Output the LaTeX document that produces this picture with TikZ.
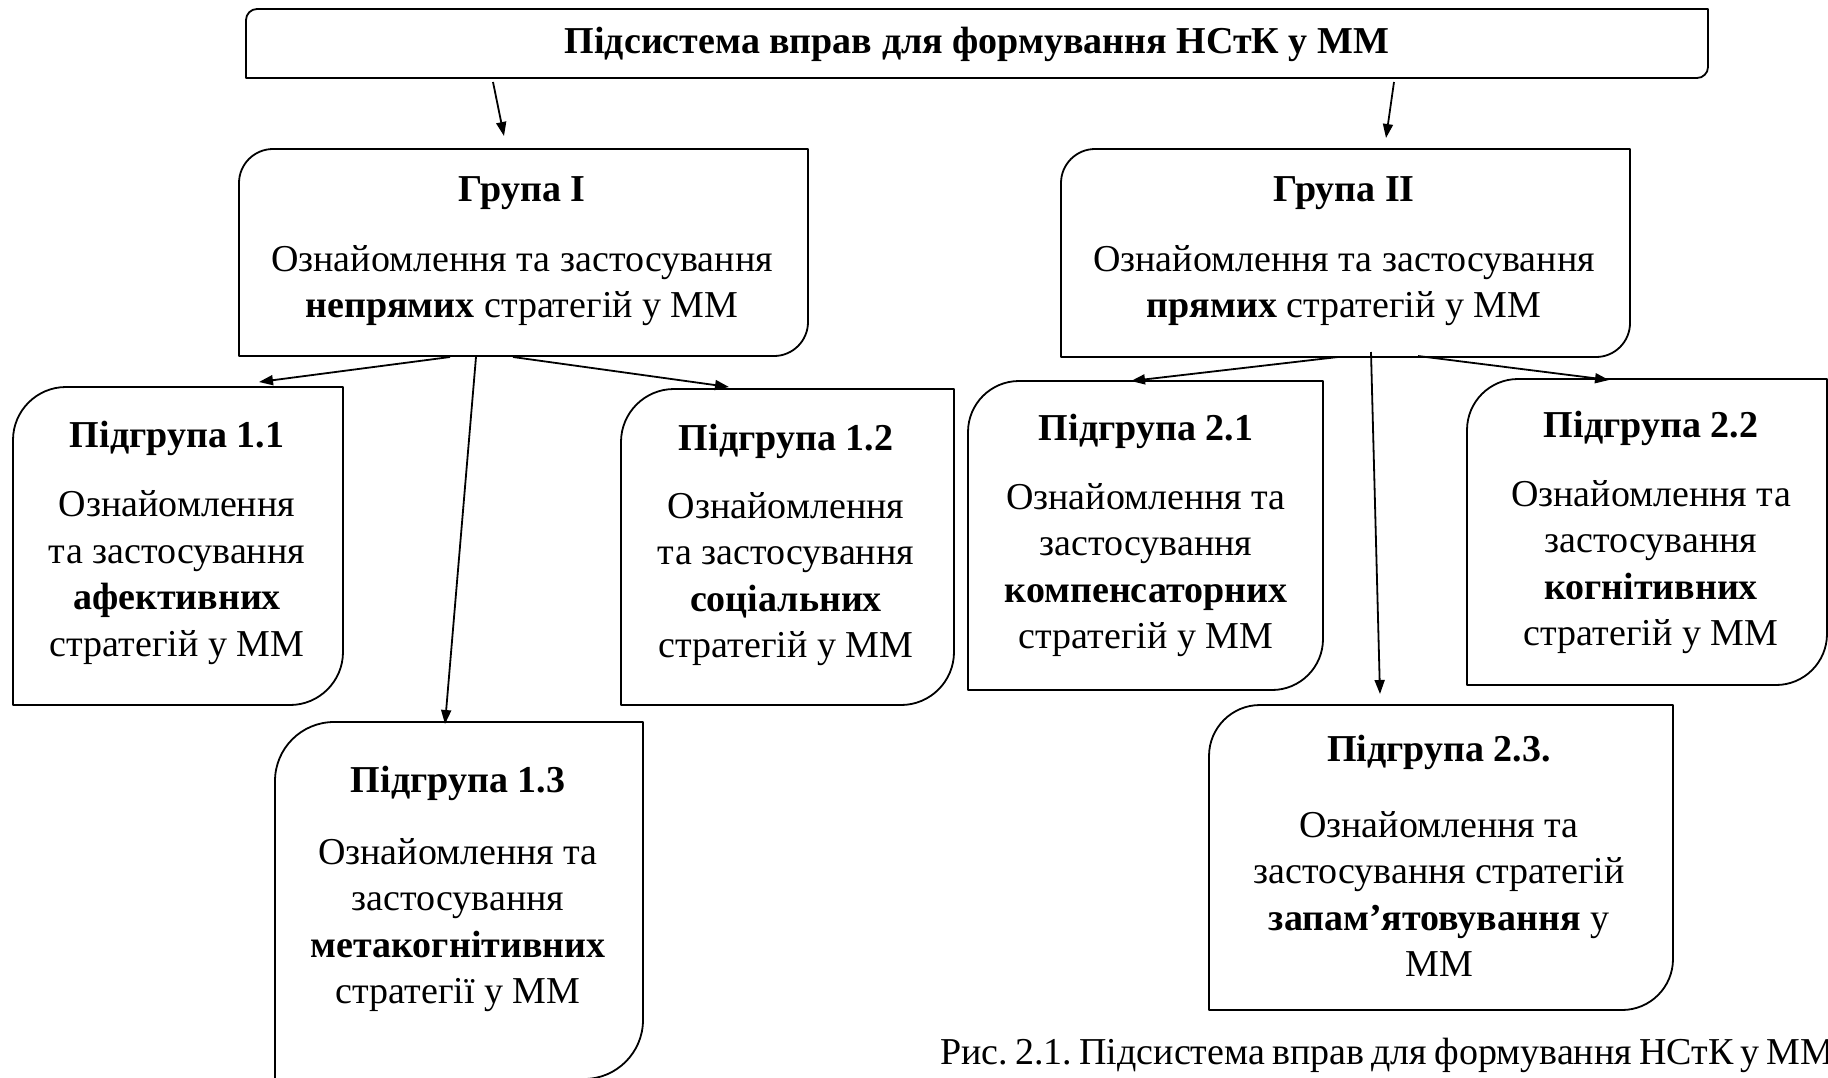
\documentclass[tikz,border=0pt]{standalone}
\usepackage{fontspec}
\setmainfont{Liberation Serif}
\usetikzlibrary{calc,arrows.meta}
\tikzset{
  boxline/.style={line width=1.8pt, line join=round},
  frame/.style={rectangle, draw=none, inner sep=0pt, outer sep=0pt},
  txt/.style={align=center, inner sep=0pt, font=\fontsize{38}{46.5}\selectfont},
  hd/.style={inner sep=0pt, font=\fontsize{38}{46.5}\selectfont\bfseries},
  conn/.style={line width=1.8pt, -{Triangle[length=14pt,width=10pt]}},
}
\newcommand{\rdshape}[2]{%
  \draw[boxline] (#1.north east) -- ($(#1.north west)+(#2,0)$)
    .. controls ($(#1.north west)+({#2*0.448},0)$) and ($(#1.north west)+(0,{#2*0.448})$) ..
    ($(#1.north west)+(0,#2)$) -- (#1.south west) -- ($(#1.south east)+(-#2,0)$)
    .. controls ($(#1.south east)+({-#2*0.448},0)$) and ($(#1.south east)+(0,{-#2*0.448})$) ..
    ($(#1.south east)+(0,-#2)$) -- cycle;}
\frenchspacing
\begin{document}
\begin{tikzpicture}[x=1pt,y=-1pt]
\fill[white] (0,0) rectangle (1828,1077);
\useasboundingbox (0,0) rectangle (1828,1077);

% boxes
\node[frame, minimum width=1462pt, minimum height=69pt] (top) at (977,43.5) {};
\node[frame, minimum width=569pt, minimum height=207pt] (g1) at (523.5,252.5) {};
\node[frame, minimum width=569pt, minimum height=208pt] (g2) at (1345.5,253) {};
\node[frame, minimum width=330pt, minimum height=318pt] (s11) at (178,546) {};
\node[frame, minimum width=333pt, minimum height=316pt] (s12) at (787.5,547) {};
\node[frame, minimum width=368pt, minimum height=357pt] (s13) at (459,900.5) {};
\node[frame, minimum width=355pt, minimum height=309pt] (s21) at (1145.5,535.5) {};
\node[frame, minimum width=360pt, minimum height=306pt] (s22) at (1647,532) {};
\node[frame, minimum width=464pt, minimum height=305pt] (s23) at (1441,857.5) {};

\rdshape{top}{11}
\rdshape{g1}{34}
\rdshape{g2}{34}
\rdshape{s11}{53}
\rdshape{s12}{53}
\rdshape{s13}{59}
\rdshape{s21}{51}
\rdshape{s22}{51}
\rdshape{s23}{51}

% texts
\node[hd] (topt) at (977,44) {Підсистема вправ для формування НСтК у ММ};
\node[hd] (g1h) at (522,193) {Група I};
\node[txt] (g1t) at (522,285.5) {Ознайомлення та застосування\\\textbf{непрямих} стратегій у ММ};
\node[hd] (g2h) at (1344,193) {Група II};
\node[txt] (g2t) at (1344,285.5) {Ознайомлення та застосування\\\textbf{прямих} стратегій у ММ};
\node[hd] (s11h) at (177,438) {Підгрупа 1.1};
\node[txt] (s11t) at (177,577.5) {Ознайомлення\\та застосування\\\textbf{афективних}\\стратегій у ММ};
\node[hd] (s12h) at (786,441) {Підгрупа 1.2};
\node[txt] (s12t) at (786,579) {Ознайомлення\\та застосування\\\textbf{соціальних}\\стратегій у ММ};
\node[hd] (s13h) at (458,783) {Підгрупа 1.3};
\node[txt] (s13t) at (458,925) {Ознайомлення та\\застосування\\\textbf{метакогнітивних}\\стратегії у ММ};
\node[hd] (s21h) at (1146,431) {Підгрупа 2.1};
\node[txt] (s21t) at (1146,570) {Ознайомлення та\\застосування\\\textbf{компенсаторних}\\стратегій у ММ};
\node[hd] (s22h) at (1651,428) {Підгрупа 2.2};
\node[txt] (s22t) at (1651,567) {Ознайомлення та\\застосування\\\textbf{когнітивних}\\стратегій у ММ};
\node[hd] (s23h) at (1439,752) {Підгрупа 2.3.};
\node[txt] (s23t) at (1439,894) {Ознайомлення та\\застосування стратегій\\\textbf{запам’ятовування} у\\ММ};
\node[txt, anchor=west] (cap) at (940,1055) {\spaceskip=0.19em Рис. 2.1. Підсистема вправ для формування НСтК у ММ};

% connectors
\draw[conn] ($(top.south west)+(247,4)$) -- ($(g1.north west)+(265,-13)$);
\draw[conn] ($(top.south west)+(1148,4)$) -- ($(g2.north west)+(325,-11)$);
\draw[conn] ($(g1.south west)+(211,1)$) -- ($(s11.north west)+(246,-5)$);
\draw[conn] ($(g1.south west)+(274,1)$) -- ($(s12.north west)+(108,-2)$);
\draw[conn] ($(g1.south west)+(237,1)$) -- ($(s13.north west)+(170,2)$);
\draw[conn] ($(g2.south west)+(277,0)$) -- ($(s21.north west)+(163,0)$);
\draw[conn] ($(g2.south west)+(357,-1)$) -- ($(s22.north west)+(142,1)$);
\draw[conn] ($(g2.south west)+(310,-5)$) -- ($(s23.north west)+(171,-11)$);
\end{tikzpicture}
\end{document}
